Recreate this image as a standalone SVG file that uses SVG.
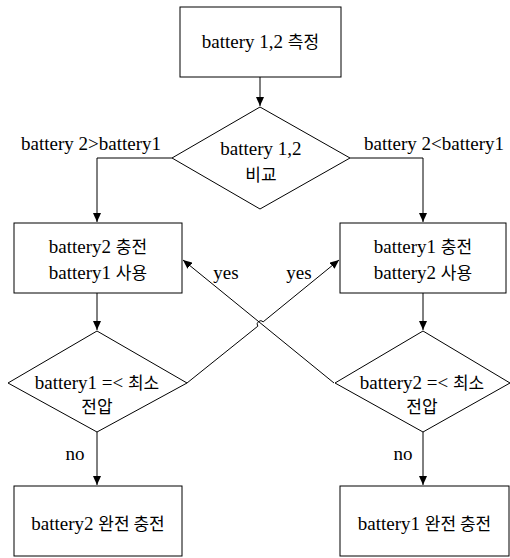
<svg xmlns="http://www.w3.org/2000/svg" width="510" height="558" viewBox="0 0 510 558">
<defs>
<marker id="ah" markerUnits="userSpaceOnUse" markerWidth="10" markerHeight="8" refX="9" refY="4" orient="auto">
<path d="M0,0 L9,4 L0,8 Z" fill="#000"/>
</marker>
</defs>
<rect width="510" height="558" fill="#fff"/>
<g id="diagram" font-family="Liberation Serif, serif" font-size="19" text-anchor="middle">
<g id="connectors" fill="none" stroke="#000" stroke-width="1">
<path d="M260,77 V106" marker-end="url(#ah)"/>
<path d="M172,158 H97 V222" marker-end="url(#ah)"/>
<path d="M350,158 H423 V222" marker-end="url(#ah)"/>
<path d="M97,293 V330" marker-end="url(#ah)"/>
<path d="M423,293 V330" marker-end="url(#ah)"/>
<path d="M97,432 V485" marker-end="url(#ah)"/>
<path d="M423,432 V485" marker-end="url(#ah)"/>
<path d="M187,383 L257.8,326.2 A3.5,3.5 0 0 1 263.2,321.8 L339,260" marker-end="url(#ah)"/>
<path d="M334,383 L183,260" marker-end="url(#ah)"/>
</g>
<g id="labels" fill="#000">
<text x="91" y="150">battery 2&gt;battery1</text>
<text x="434" y="150">battery 2&lt;battery1</text>
<text x="226" y="279">yes</text>
<text x="299" y="279">yes</text>
<text x="75" y="460">no</text>
<text x="403" y="460">no</text>
</g>
<g id="measure">
<rect x="180" y="7" width="161" height="70" fill="#fff" stroke="#000"/>
<text x="260.5" y="48">battery 1,2 <tspan font-family="Noto Sans CJK KR, sans-serif" font-size="17">측정</tspan></text>
</g>
<g id="compare">
<polygon points="260,107 350,158 260,209 172,158" fill="#fff" stroke="#000"/>
<text x="261" y="155">battery 1,2</text>
<text x="261" y="181" font-family="Noto Sans CJK KR, sans-serif" font-size="17">비교</text>
</g>
<g id="charge2">
<rect x="14" y="223" width="168" height="70" fill="#fff" stroke="#000"/>
<text x="98" y="253">battery2 <tspan font-family="Noto Sans CJK KR, sans-serif" font-size="17">충전</tspan></text>
<text x="98" y="279">battery1 <tspan font-family="Noto Sans CJK KR, sans-serif" font-size="17">사용</tspan></text>
</g>
<g id="charge1">
<rect x="340" y="223" width="166" height="70" fill="#fff" stroke="#000"/>
<text x="423" y="253">battery1 <tspan font-family="Noto Sans CJK KR, sans-serif" font-size="17">충전</tspan></text>
<text x="423" y="279">battery2 <tspan font-family="Noto Sans CJK KR, sans-serif" font-size="17">사용</tspan></text>
</g>
<g id="check1">
<polygon points="97,331 187,383 97,432 8,383" fill="#fff" stroke="#000"/>
<text x="97" y="389">battery1 =&lt; <tspan font-family="Noto Sans CJK KR, sans-serif" font-size="17">최소</tspan></text>
<text x="97" y="413" font-family="Noto Sans CJK KR, sans-serif" font-size="17">전압</text>
</g>
<g id="check2">
<polygon points="423,331 510,383 423,432 335,383" fill="#fff" stroke="#000"/>
<text x="422" y="389">battery2 =&lt; <tspan font-family="Noto Sans CJK KR, sans-serif" font-size="17">최소</tspan></text>
<text x="422" y="413" font-family="Noto Sans CJK KR, sans-serif" font-size="17">전압</text>
</g>
<g id="full2">
<rect x="14" y="486" width="168" height="70" fill="#fff" stroke="#000"/>
<text x="98" y="530">battery2 <tspan font-family="Noto Sans CJK KR, sans-serif" font-size="17">완전 충전</tspan></text>
</g>
<g id="full1">
<rect x="340" y="486" width="169" height="70" fill="#fff" stroke="#000"/>
<text x="424.5" y="530">battery1 <tspan font-family="Noto Sans CJK KR, sans-serif" font-size="17">완전 충전</tspan></text>
</g>
</g>
</svg>
